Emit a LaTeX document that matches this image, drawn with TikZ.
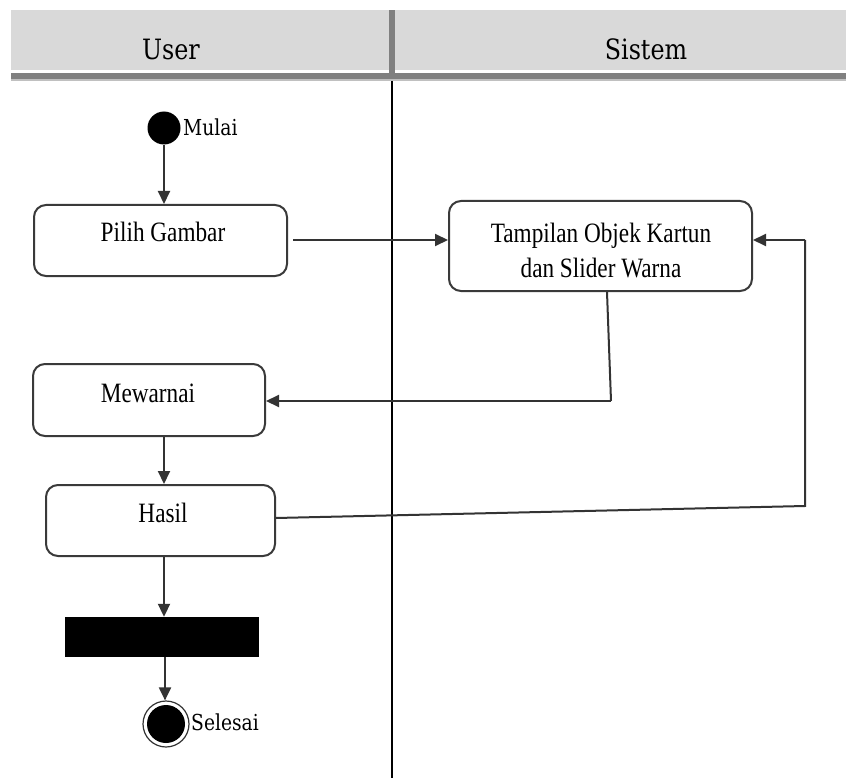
\documentclass[tikz,border=0pt]{standalone}
\usepackage{fontspec}
\setmainfont{Liberation Serif}[FakeStretch=0.83]
\newfontfamily\headfont{DejaVu Serif}[FakeStretch=0.85]
\usetikzlibrary{arrows.meta,calc}

\definecolor{headgray}{HTML}{D9D9D9}
\definecolor{rulegray}{HTML}{808080}
\definecolor{edgegray}{HTML}{C0C0C0}
\definecolor{boxline}{HTML}{3A3A3A}
\definecolor{flowline}{HTML}{333333}

\tikzset{
  actbox/.style={draw=boxline, line width=2pt, rounded corners=12pt, fill=white, inner sep=0pt},
  acttext/.style={inner sep=0pt, font=\fontsize{28}{35}\selectfont, align=center},
  lanetitle/.style={inner sep=0pt, font=\headfont\fontsize{28}{32}\selectfont},
  marktext/.style={inner sep=0pt, anchor=west, font=\headfont\fontsize{22}{26}\selectfont},
  flow/.style={draw=flowline, line width=2pt, -{Triangle[length=13pt,width=12pt]}},
  flowplain/.style={draw=flowline, line width=2pt},
}

\begin{document}
\begin{tikzpicture}[x=1pt, y=-1pt]
\useasboundingbox (0,0) rectangle (846,778);

% swimlane header
\fill[headgray] (11,10) rectangle (846,70);
\fill[rulegray] (11,73) rectangle (846,79);
\fill[edgegray] (11,79) rectangle (846,81);
\fill[rulegray] (389,10) rectangle (395,79);
\draw[black, line width=1.5pt] (392,81) -- (392,778);
\node[lanetitle] (user) at (171,49) {User};
\node[lanetitle] (sistem) at (646,49) {Sistem};

% start and end markers
\node[circle, fill=black, minimum size=33pt, inner sep=0pt] (start) at (164,128) {};
\node[marktext] (mulai) at (183,127) {Mulai};

\node[circle, draw=black!80, line width=1.2pt, fill=white, minimum size=46pt, inner sep=0pt] (finish) at (166,724) {};
\node[circle, fill=black, minimum size=38pt, inner sep=0pt] at (finish.center) {};
\node[marktext] (selesai) at (191,722) {Selesai};

% activities
\node[actbox, minimum width=253pt, minimum height=71pt] (pilih) at (160.5,240.5) {};
\node[acttext] (pilihT) at (163,232) {Pilih Gambar};

\node[actbox, minimum width=303pt, minimum height=90pt] (tamp) at (600.5,246) {};
\node[acttext] (tampT) at (601,250) {Tampilan Objek Kartun\\dan Slider Warna};

\node[actbox, minimum width=232pt, minimum height=72pt] (mew) at (149,400) {};
\node[acttext] (mewT) at (148,393) {Mewarnai};

\node[actbox, minimum width=229pt, minimum height=71pt] (hasil) at (160.5,520.5) {};
\node[acttext] (hasilT) at (163,513) {Hasil};

% synchronisation bar
\node[fill=black, minimum width=194pt, minimum height=40pt, inner sep=0pt] (bar) at (162,637) {};

% bend points of the flows
\coordinate (tb) at ([xshift=6.5pt]tamp.south);
\coordinate (b1) at (611,401);
\coordinate (he) at ([yshift=2.5pt]hasil.east);
\coordinate (b2) at (805,506);
\coordinate (b3) at (805,240);

% flows
\draw[flow] (start.south) -- (start.south |- pilih.north);
\draw[flow, shorten <=5pt] (pilih.east |- b3) -- (b3 -| tamp.west);
\draw[flowplain] (tb) -- (b1);
\draw[flow] (b1) -- (b1 -| mew.east);
\draw[flow] ([xshift=15pt]mew.south) -- ([xshift=15pt]mew.south |- hasil.north);
\draw[flowplain] (he) -- (b2) -- (b3);
\draw[flow] (b3) -- (b3 -| tamp.east);
\draw[flow] ([xshift=3.5pt]hasil.south) -- ([xshift=3.5pt]hasil.south |- bar.north);
\draw[flow] ([xshift=3pt]bar.south) -- ([xshift=3pt]bar.south |- finish.north);
\end{tikzpicture}
\end{document}
